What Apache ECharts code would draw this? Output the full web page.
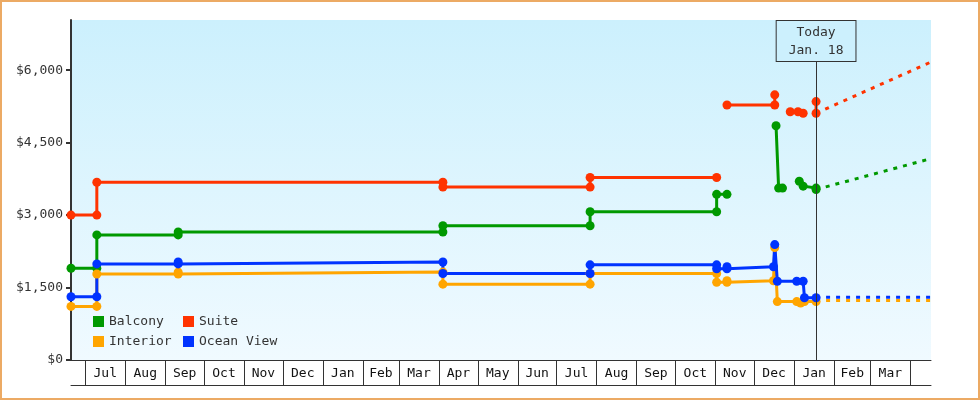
<!DOCTYPE html>
<html>
<head>
<meta charset="utf-8">
<script src="https://cdn.jsdelivr.net/npm/echarts@6/dist/echarts.min.js"></script>
<style>
html,body{margin:0;padding:0;background:#fff;}
#chart{width:980px;height:400px;}
</style>
</head>
<body>
<div id="chart"></div>
<script>
// ---------- DATA ----------
const X_MIN = '2013-06-20';
const X_MAX = '2015-04-17';
const TODAY = '2015-01-18';
const TODAY_LABEL = 'Today\nJan. 18';

const monthStarts = ['2013-07-01','2013-08-01','2013-09-01','2013-10-01','2013-11-01','2013-12-01',
  '2014-01-01','2014-02-01','2014-03-01','2014-04-01','2014-05-01','2014-06-01','2014-07-01',
  '2014-08-01','2014-09-01','2014-10-01','2014-11-01','2014-12-01','2015-01-01','2015-02-01',
  '2015-03-01','2015-04-01'];
const monthNames = ['Jan','Feb','Mar','Apr','May','Jun','Jul','Aug','Sep','Oct','Nov','Dec'];
const yTicks = [0, 1500, 3000, 4500, 6000];

const balcony = [
  ['2013-06-20',1900],['2013-07-10',1900],['2013-07-10',2590],['2013-09-11',2590],['2013-09-11',2650],
  ['2014-04-04',2650],['2014-04-04',2780],['2014-07-27',2780],['2014-07-27',3070],['2014-11-02',3070],
  ['2014-11-02',3430],['2014-11-10',3430],['2014-11-10',null],
  ['2014-12-18',4850],['2014-12-20',3560],['2014-12-23',3560],['2014-12-23',null],
  ['2015-01-05',3700],['2015-01-08',3600],['2015-01-18',3560],['2015-01-18',3530]
];
const suite = [
  ['2013-06-20',3000],['2013-07-10',3000],['2013-07-10',3680],['2014-04-04',3680],['2014-04-04',3580],
  ['2014-07-27',3580],['2014-07-27',3780],['2014-11-02',3780],['2014-11-02',null],
  ['2014-11-10',5280],['2014-12-17',5280],['2014-12-17',5490],['2014-12-17',null],
  ['2014-12-29',5140],['2015-01-04',5140],['2015-01-08',5110],['2015-01-08',null],
  ['2015-01-18',5350],['2015-01-18',5110]
];
const interior = [
  ['2013-06-20',1110],['2013-07-10',1110],['2013-07-10',1780],['2013-09-11',1780],['2013-09-11',1820],
  ['2014-04-04',1820],['2014-04-04',1570],['2014-07-27',1570],['2014-07-27',1790],['2014-11-02',1790],
  ['2014-11-02',1610],['2014-11-10',1610],['2014-11-10',1640],['2014-12-16',1640],['2014-12-17',2330],
  ['2014-12-19',1210],['2015-01-03',1210],['2015-01-06',1180],['2015-01-09',1210],['2015-01-18',1210]
];
const oceanView = [
  ['2013-06-20',1310],['2013-07-10',1310],['2013-07-10',1990],['2013-09-11',1990],['2013-09-11',2030],
  ['2014-04-04',2030],['2014-04-04',1790],['2014-07-27',1790],['2014-07-27',1970],['2014-11-02',1970],
  ['2014-11-02',1890],['2014-11-10',1890],['2014-11-10',1930],['2014-12-16',1930],['2014-12-17',2390],
  ['2014-12-19',1630],['2015-01-03',1630],['2015-01-08',1630],['2015-01-09',1290],['2015-01-18',1290]
];
// forecasts (dashed)
const balconyForecast = [['2015-01-18',3530],['2015-04-17',4170]];
const suiteForecast = [['2015-01-18',5110],['2015-04-17',6170]];
const interiorForecast = [['2015-01-18',1230],['2015-04-17',1230]];
const oceanViewForecast = [['2015-01-18',1300],['2015-04-17',1300]];

// ---------- STYLE ----------
const FONT = "'DejaVu Sans Mono', monospace";
const TXT = '#333333';
const COLORS = {Balcony:'#009900', Suite:'#ff3300', Interior:'#ffa500', 'Ocean View':'#0033ff'};

const ts = s => echarts.time.parse(s).getTime();
const monthStartTs = monthStarts.map(ts);
const monthMidTs = monthStartTs.slice(0, -1).map((t, i) => (t + monthStartTs[i + 1]) / 2);

function solid(name, data) {
  return {
    name, type:'line', data, color: COLORS[name], xAxisIndex:0,
    symbol:'circle', symbolSize:9, showSymbol:true,
    lineStyle:{width:3, color:COLORS[name]},
    itemStyle:{color:COLORS[name]},
    connectNulls:false, animation:false
  };
}
function dashed(name, data) {
  return {
    name: name + ' forecast', type:'line', data, color: COLORS[name], xAxisIndex:0,
    symbol:'none', lineStyle:{width:3, type:[4,6], color:COLORS[name]},
    animation:false, silent:true
  };
}

const chart = echarts.init(document.getElementById('chart'), null, {renderer:'canvas'});
const series = [
  dashed('Balcony', balconyForecast),
  dashed('Suite', suiteForecast),
  dashed('Interior', interiorForecast),
  dashed('Ocean View', oceanViewForecast),
  solid('Balcony', balcony),
  solid('Suite', suite),
  solid('Interior', interior),
  solid('Ocean View', oceanView)
];
series[0].markLine = {
  silent:true, symbol:'none', animation:false,
  lineStyle:{color:'#333', width:1, type:'solid'},
  label:{
    show:true, position:'end', formatter: TODAY_LABEL,
    fontFamily:FONT, fontSize:13, color:TXT, lineHeight:18,
    backgroundColor:'#ccf0fd', borderColor:'#333', borderWidth:1,
    padding:[3,12,1,12], distance:0, offset:[0,41]
  },
  data:[{xAxis: TODAY}]
};

const legendCommon = {orient:'vertical', top:315, padding:0, itemWidth:11, itemHeight:11,
  itemGap:7, icon:'rect', textStyle:{fontFamily:FONT, fontSize:13, color:TXT}, selectedMode:false};

chart.setOption({
  animation:false,
  backgroundColor:'#ffffff',
  textStyle:{fontFamily:FONT},
  graphic:[{type:'rect', silent:true, z:-10, shape:{x:1, y:1, width:978, height:398},
    style:{fill:'none', stroke:'#ecaa64', lineWidth:2}}],
  grid:{left:71, right:49, top:20, bottom:40, show:true, borderWidth:0,
    backgroundColor: new echarts.graphic.LinearGradient(0,0,0,1,[
      {offset:0, color:'#ccf0fd'},{offset:1, color:'#f0faff'}])},
  legend:[
    Object.assign({data:['Balcony','Interior'], left:93}, legendCommon),
    Object.assign({data:['Suite','Ocean View'], left:183}, legendCommon)
  ],
  xAxis:[
    {type:'time', min:X_MIN, max:X_MAX, position:'bottom', show:false, splitLine:{show:false}},
    {type:'value', min:ts(X_MIN), max:ts(X_MAX), position:'bottom',
     axisLine:{show:true, onZero:false, lineStyle:{color:'#333', width:1}},
     axisTick:{show:true, length:25, lineStyle:{color:'#333', width:1}, customValues: monthStartTs},
     axisLabel:{show:true, customValues: monthMidTs, margin:7, fontFamily:FONT, fontSize:13, color:'#111',
       formatter: v => monthNames[new Date(v).getMonth()]},
     splitLine:{show:false}},
    {type:'value', min:ts(X_MIN), max:ts(X_MAX), position:'bottom', offset:25,
     axisLine:{show:true, onZero:false, lineStyle:{color:'#333', width:1}},
     axisTick:{show:false}, axisLabel:{show:false}, splitLine:{show:false}}
  ],
  yAxis:{type:'value', min:0, max:7040,
    axisLine:{show:true, lineStyle:{color:'#333', width:2}},
    axisTick:{show:true, length:5, lineStyle:{color:'#333', width:2}, customValues: yTicks},
    axisLabel:{customValues: yTicks, margin:8, fontFamily:FONT, fontSize:13, color:TXT,
      formatter: v => '$' + Number(v).toLocaleString('en-US')},
    splitLine:{show:false}},
  series
});
</script>
</body>
</html>
